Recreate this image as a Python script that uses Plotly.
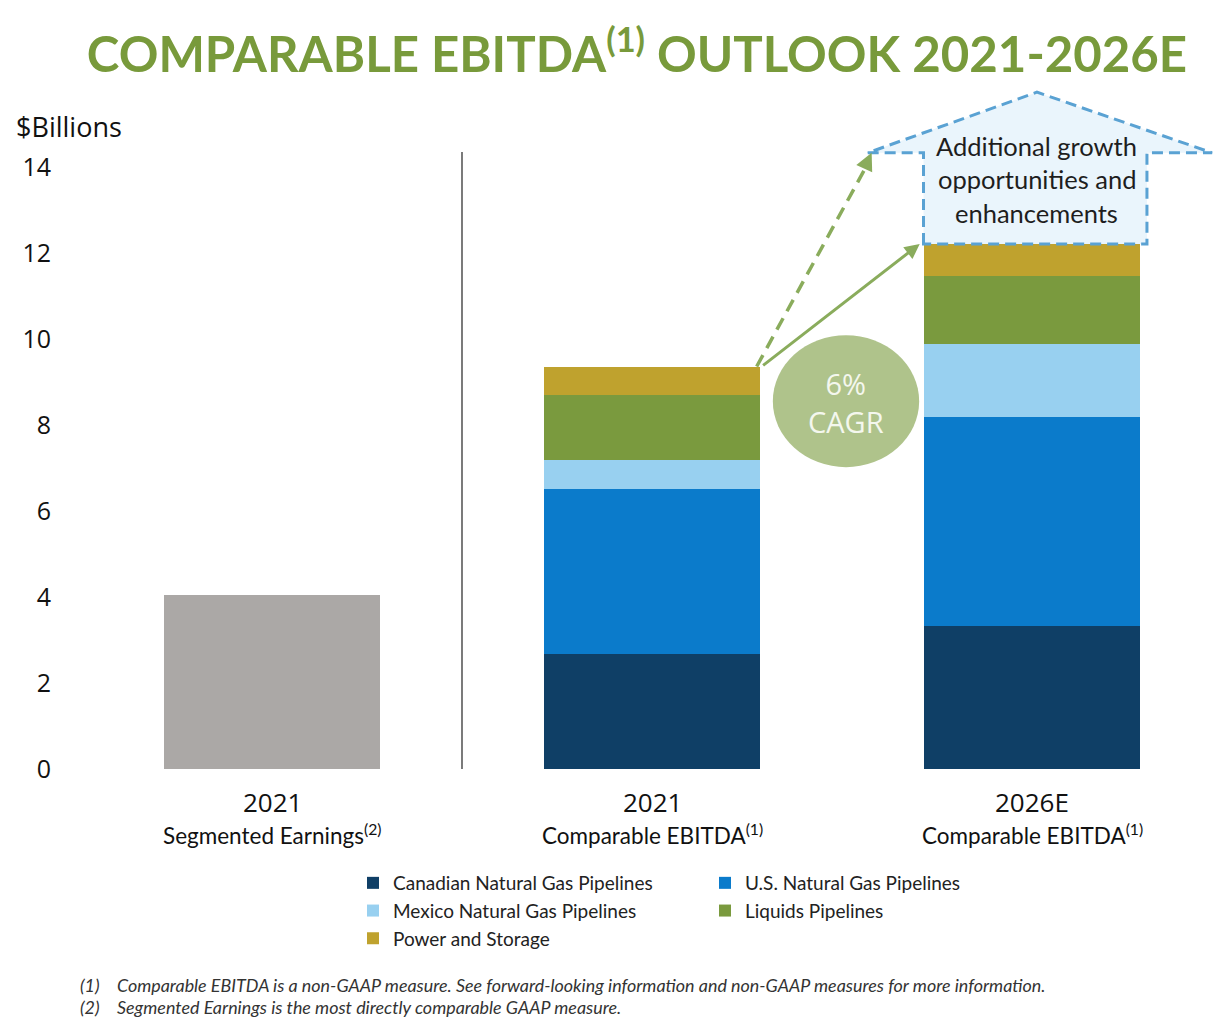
import plotly.graph_objects as go

# ---------------- data ----------------
tick_top = ["2021", "2021", "2026E"]
tick_bottom = ["Segmented Earnings<sup>(2)</sup>", "Comparable EBITDA<sup>(1)</sup>", "Comparable EBITDA<sup>(1)</sup>"]

segmented_earnings_2021 = 4.05

series_names = ["Canadian Natural Gas Pipelines", "U.S. Natural Gas Pipelines",
                "Mexico Natural Gas Pipelines", "Liquids Pipelines", "Power and Storage"]
canadian = [2.67, 3.33]
us = [3.84, 4.86]
mexico = [0.67, 1.70]
liquids = [1.51, 1.58]
power = [0.67, 0.74]

y_ticks = [0, 2, 4, 6, 8, 10, 12, 14]

# ---------------- styles ----------------
colors = ["#0F3F66", "#0B7BCB", "#98D0F0", "#7A9A3E", "#BFA22E"]
legend_ids = ["legend", "legend2", "legend", "legend2", "legend"]
gray = "#ABA8A6"
green_title = "#789A3B"
arrow_green = "#8AAC5C"
BW = 0.571
FONT = "Lato"

OFF = 8                      # page body margin
W, H = 1222 - OFF, 1030 - OFF
ML, MR, MT = 82 - OFF, 0, 81 - OFF
PLOT_BOTTOM = 769 - OFF
MB = H - PLOT_BOTTOM
PW, PH = W - ML - MR, PLOT_BOTTOM - MT


def paper_x(sx):
    return (sx - OFF - ML) / PW


def paper_y(sy):
    return (PLOT_BOTTOM - (sy - OFF)) / PH


fig = go.Figure()

fig.add_trace(go.Bar(x=[0], y=[segmented_earnings_2021], width=BW,
                     marker=dict(color=gray, line=dict(width=0)), showlegend=False,
                     hoverinfo="y"))

stack = [canadian, us, mexico, liquids, power]
for name, vals, col, lg in zip(series_names, stack, colors, legend_ids):
    fig.add_trace(go.Bar(x=[1, 2], y=vals, width=BW, name=name, legend=lg, legendgroup=name,
                         marker=dict(color=col, line=dict(width=0))))

tot21 = sum(s[0] for s in stack)
tot26 = sum(s[1] for s in stack)

shapes = []
annotations = []

# divider line
shapes.append(dict(type="line", xref="x", yref="y", x0=0.5, x1=0.5, y0=-0.65, y1=14.35,
                   line=dict(color="#222222", width=1.2)))

# house-shaped dashed arrow
xl, xr = 2 - BW / 2, 2 + BW / 2 + 0.017
path = (f"M {xl},{tot26} L {xl},14.33 L 1.568,14.33 L 2.013,15.74 L 2.474,14.33 "
        f"L {xr},14.33 L {xr},{tot26} Z")
shapes.append(dict(type="path", xref="x", yref="y", path=path, fillcolor="#EAF5FC",
                   line=dict(color="#5AA2D3", width=3, dash="11px,6px"), layer="above"))

# dashed green arrow line
shapes.append(dict(type="line", xref="x", yref="y", x0=1 + BW / 2 - 0.01, y0=tot21,
                   x1=1.56, y1=13.95, line=dict(color=arrow_green, width=3.5, dash="13px,8px")))

# CAGR ellipse
shapes.append(dict(type="circle", xref="x", yref="y", x0=1.318, x1=1.703, y0=7.02, y1=10.09,
                   fillcolor="#AFC38B", line=dict(width=0)))

# dashed arrow head
annotations.append(dict(xref="x", yref="y", axref="x", ayref="y", x=1.578, y=14.33,
                        ax=1.558, ay=13.95, showarrow=True, arrowhead=2, arrowsize=1,
                        arrowwidth=3.5, arrowcolor=arrow_green, text=""))
# solid arrow
annotations.append(dict(xref="x", yref="y", axref="x", ayref="y", x=2 - BW / 2 - 0.01, y=tot26,
                        ax=1 + BW / 2 + 0.003, ay=tot21, showarrow=True, arrowhead=2,
                        arrowsize=1, arrowwidth=3, arrowcolor=arrow_green, text=""))

# CAGR text
annotations.append(dict(xref="x", yref="y", x=1.51, y=8.53, showarrow=False,
                        text="6%<br>CAGR", font=dict(family="Open Sans", size=29, color="#F4F7EE"),
                        align="center"))

# box text
for txt, yy in zip(["Additional growth", "opportunities and", "enhancements"], [14.5, 13.71, 12.94]):
    annotations.append(dict(xref="x", yref="y", x=2.013, y=yy, showarrow=False, text=txt,
                            font=dict(family=FONT, size=25.5, color="#1E1E1E")))

# $Billions
annotations.append(dict(xref="paper", yref="paper", x=paper_x(14), y=paper_y(126),
                        xanchor="left", yanchor="middle", showarrow=False, text="$Billions",
                        font=dict(family="Open Sans", size=27, color="#111111")))

# category labels
for i, (t, b) in enumerate(zip(tick_top, tick_bottom)):
    annotations.append(dict(xref="x", yref="y", x=i, y=0, yshift=-33, yanchor="middle",
                            showarrow=False, text=t,
                            font=dict(family="Open Sans", size=26, color="#111111")))
    annotations.append(dict(xref="x", yref="y", x=i, y=0, yshift=-65, yanchor="middle",
                            showarrow=False, text=b,
                            font=dict(family=FONT, size=22.5, color="#111111")))

# footnotes
foot = ["Comparable EBITDA is a non-GAAP measure. See forward-looking information and non-GAAP measures for more information.",
        "Segmented Earnings is the most directly comparable GAAP measure."]
for num, txt, py in zip(["(1)", "(2)"], foot, [985, 1007]):
    annotations.append(dict(xref="paper", yref="paper", x=paper_x(78), y=paper_y(py),
                            xanchor="left", yanchor="middle", showarrow=False,
                            text=f"<i>{num}</i>", font=dict(family=FONT, size=17.9, color="#333333")))
    annotations.append(dict(xref="paper", yref="paper", x=paper_x(115), y=paper_y(py),
                            xanchor="left", yanchor="middle", showarrow=False,
                            text=f"<i>{txt}</i>", font=dict(family=FONT, size=17.9, color="#333333")))

legend_common = dict(orientation="v", xref="paper", yref="paper", yanchor="top", xanchor="left",
                     font=dict(family=FONT, size=19, color="#222222"), bgcolor="rgba(0,0,0,0)",
                     itemwidth=30, tracegroupgap=2, traceorder="normal")

fig.update_layout(
    width=W, height=H,
    margin=dict(l=ML, r=MR, t=MT, b=MB),
    plot_bgcolor="white", paper_bgcolor="white",
    barmode="stack", bargap=0,
    title=dict(text="COMPARABLE EBITDA<sup>(1)</sup> OUTLOOK 2021-2026E", xref="container",
               yref="container", x=(637 - OFF) / W, xanchor="center", y=1 - (55 - OFF) / H,
               yanchor="middle",
               font=dict(family=FONT, size=49.2, color=green_title, weight="bold")),
    xaxis=dict(range=[-0.5, 2.5], showticklabels=False, showgrid=False, zeroline=False,
               showline=False, ticks="", fixedrange=True),
    yaxis=dict(range=[0, 16], tickvals=y_ticks, ticktext=[str(v) for v in y_ticks],
               showgrid=False, zeroline=False, showline=False, ticks="",
               tickfont=dict(family="Open Sans", size=25, color="#111111"),
               ticklabelstandoff=30),
    legend=dict(x=paper_x(353), y=paper_y(864), **legend_common),
    legend2=dict(x=paper_x(705), y=paper_y(864), **legend_common),
    shapes=shapes,
    annotations=annotations,
)

fig.write_html("out.html")
